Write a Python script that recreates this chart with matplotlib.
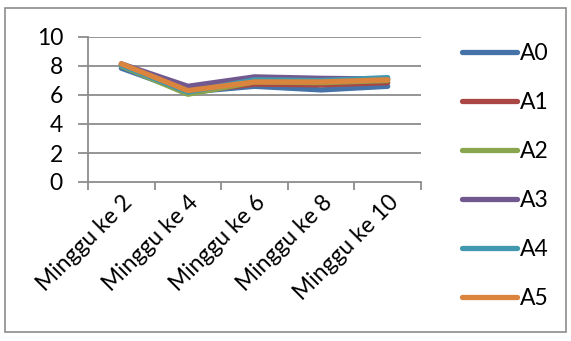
import matplotlib
matplotlib.use("Agg")
import matplotlib.pyplot as plt
from matplotlib.patches import Rectangle

categories = ["Minggu ke 2", "Minggu ke 4", "Minggu ke 6", "Minggu ke 8", "Minggu ke 10"]
series_names = ["A0", "A1", "A2", "A3", "A4", "A5"]
A0 = [7.85, 6.2, 6.6, 6.35, 6.6]
A1 = [8.1, 6.2, 6.75, 6.7, 6.85]
A2 = [8.0, 6.05, 6.9, 6.85, 7.0]
A3 = [8.15, 6.6, 7.25, 7.15, 7.1]
A4 = [8.05, 6.2, 7.05, 7.0, 7.2]
A5 = [8.15, 6.3, 6.9, 6.9, 7.05]
series = [A0, A1, A2, A3, A4, A5]
colors = ["#4572A7", "#AA4643", "#89A54E", "#71588F", "#4198AF", "#DB843D"]
yticks = [0, 2, 4, 6, 8, 10]

plt.rcParams['font.family'] = ['Lato', 'DejaVu Sans']
FS = 16.5
W, H = 571, 341
fig = plt.figure(figsize=(W/100, H/100), dpi=100)
ax = fig.add_axes([88/W, 1-182/H, (421-88)/W, (182-37)/H])

x = list(range(len(categories)))
for s, name, c in zip(series, series_names, colors):
    ax.plot(x, s, color=c, lw=3.8, solid_capstyle='round', solid_joinstyle='round', label=name)

ax.set_xlim(-0.5, len(categories)-0.5)
ax.set_ylim(0, 10)
ax.set_yticks(yticks)
ax.set_yticklabels([str(v) for v in yticks], fontsize=FS)
grid_c = "#8c8c8c"
for v in yticks[1:]:
    ax.axhline(v, color=grid_c, lw=1.3, zorder=0)
ax.set_xticks(x)
ax.set_xticklabels(categories, fontsize=FS, rotation=45, ha='right', rotation_mode='anchor')
ax.set_xticks([i-0.5 for i in range(len(categories)+1)], minor=True)
ax.tick_params(axis='x', which='major', length=0, pad=7)
ax.tick_params(axis='x', which='minor', length=6, color=grid_c, width=1.3)
ax.tick_params(axis='y', length=7, color=grid_c, width=1.3, pad=11)
for sp in ['top', 'right']:
    ax.spines[sp].set_visible(False)
for sp in ['left', 'bottom']:
    ax.spines[sp].set_color(grid_c)
    ax.spines[sp].set_linewidth(1.3)

leg = fig.legend(loc='center left', bbox_to_anchor=(462/W, 1-176/H), frameon=False,
                 fontsize=FS, handlelength=2.4, handletextpad=0.15, labelspacing=1.22,
                 borderpad=0, borderaxespad=0)

fig.patches.append(Rectangle((5/W, 1-332/H), (566-5)/W, (332-8)/H, transform=fig.transFigure,
                             fill=False, edgecolor="#8c8c8c", lw=1.2))
fig.savefig("out.png", dpi=100)
